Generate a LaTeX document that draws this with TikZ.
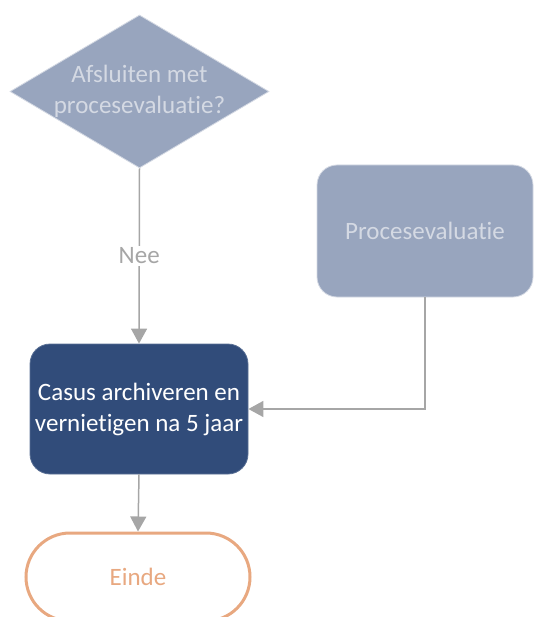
\documentclass[tikz,border=0pt]{standalone}
\usepackage{fontspec}
\setmainfont[Ligatures=NoCommon]{Carlito}
\usetikzlibrary{shapes.geometric,arrows.meta}
\definecolor{slate}{RGB}{152,165,190}
\definecolor{slatetext}{RGB}{212,217,227}
\definecolor{navy}{RGB}{49,76,122}
\definecolor{peach}{RGB}{232,168,128}
\definecolor{linegray}{RGB}{166,166,166}
\tikzset{
  txt/.style={font=\fontsize{25}{31}\selectfont, align=center, inner sep=0pt},
  decision/.style={diamond, fill=slate, draw=slatetext, line width=0.8pt, minimum width=259pt, minimum height=153pt, inner sep=0pt, aspect=1.69},
  lightbox/.style={rectangle, rounded corners=20pt, fill=slate, draw=slatetext, line width=0.8pt, minimum width=216pt, minimum height=132pt, txt, text=slatetext},
  darkbox/.style={rectangle, rounded corners=20pt, fill=navy, draw=navy!80!white, line width=0.8pt, minimum width=218pt, minimum height=130pt, txt, text=white},
  terminal/.style={rectangle, rounded corners=44pt, draw=peach, line width=3pt, fill=white, minimum width=224pt, minimum height=88pt, txt, text=peach},
  conn/.style={draw=linegray, line width=1.5pt, -{Triangle[width=16pt,length=15pt]}},
  lbl/.style={txt, text=linegray, fill=white, inner sep=2pt}
}
\begin{document}
\begin{tikzpicture}[x=1pt,y=-1pt]
\useasboundingbox (0,0) rectangle (536,617);
\clip (0,0) rectangle (536,617);
\node[decision] (dia) at (139.5,91.5) {};
\node[txt, text=slatetext] (diatext) at (dia.center) {Afsluiten met\\procesevaluatie?};
\node[lightbox] (proc) at (425,231) {Procesevaluatie};
\node[darkbox] (casus) at (139,409) {Casus archiveren en\\vernietigen na 5 jaar};
\node[terminal] (einde) at (138,577) {Einde};
\draw[conn] (dia.south) -- node[lbl] {Nee} (casus.north);
\draw[conn] (proc.south) |- (casus.east);
\draw[conn] (casus.south) -- (einde.north);
\end{tikzpicture}
\end{document}
